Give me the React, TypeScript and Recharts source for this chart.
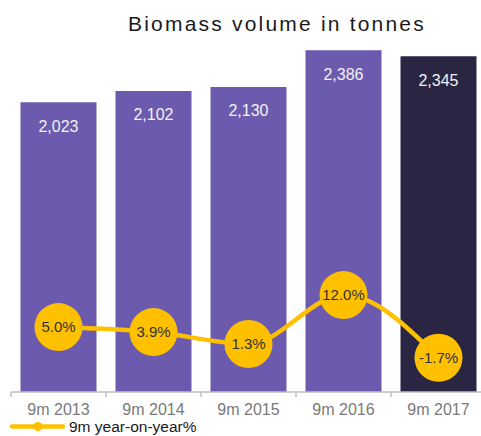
import React from 'react';
import { ComposedChart, Bar, Line, XAxis, YAxis, Cell, LabelList, Legend } from 'recharts';

const categories = ['9m 2013', '9m 2014', '9m 2015', '9m 2016', '9m 2017'];
const biomass = [2023, 2102, 2130, 2386, 2345];
const yoy = [5.0, 3.9, 1.3, 12.0, -1.7];
const barColors = ['#6b5aae', '#6b5aae', '#6b5aae', '#6b5aae', '#2b2544'];
const title = 'Biomass volume in tonnes';
const seriesName = '9m year-on-year%';

const data = categories.map((c, i) => ({ name: c, biomass: biomass[i], yoy: yoy[i] }));

const FONT = '"Liberation Sans", Arial, Helvetica, sans-serif';
const W = 495;
const H = 436;
const M = { top: 34, right: 9, bottom: 0, left: 11 };
const BAND = (W - M.left - M.right) / categories.length;
const YELLOW = '#ffc000';
const TICK_MARGIN = 12;

const Tick = (props: any) => {
  const { x, y, payload, index } = props;
  const y0 = y - TICK_MARGIN;
  return (
    <g>
      <line x1={x - BAND / 2} x2={x - BAND / 2} y1={y0} y2={y0 + 5} stroke="#bfbfbf" strokeWidth={1.5} />
      {index === categories.length - 1 && (
        <line x1={x + BAND / 2} x2={x + BAND / 2} y1={y0} y2={y0 + 5} stroke="#bfbfbf" strokeWidth={1.5} />
      )}
      <text x={x} y={y} dy="0.71em" textAnchor="middle" fill="#7a7a7a" fontSize={16} fontFamily={FONT}>
        {payload.value}
      </text>
    </g>
  );
};

const LegendContent = () => (
  <svg width={220} height={20} style={{ overflow: 'visible', display: 'block' }}>
    <line x1={12} x2={63} y1={9.5} y2={9.5} stroke={YELLOW} strokeWidth={4.5} strokeLinecap="round" />
    <circle cx={38} cy={9.5} r={4.5} fill={YELLOW} />
    <text x={69} y={15.3} fontSize={15.5} fill="#1a1a1a" fontFamily={FONT}>
      {seriesName}
    </text>
  </svg>
);

const Dot = (p: any) => <circle key={`d${p.index}`} cx={p.cx} cy={p.cy} r={24} fill={YELLOW} />;

export default function App() {
  return (
    <div style={{ position: 'fixed', left: 0, top: 0, width: 481, height: 436, overflow: 'hidden', background: '#fff' }}>
      <div
        style={{
          position: 'absolute',
          left: 77,
          width: 400,
          top: 13,
          textAlign: 'center',
          fontFamily: FONT,
          fontSize: 21,
          lineHeight: '21px',
          letterSpacing: 2.2,
          color: '#1a1a1a',
          zIndex: 2,
        }}
      >
        {title}
      </div>
      <ComposedChart width={W} height={H} data={data} margin={M}>
        <XAxis
          dataKey="name"
          height={44}
          interval={0}
          tickSize={0}
          tickMargin={TICK_MARGIN}
          tickLine={false}
          axisLine={{ stroke: '#bfbfbf', strokeWidth: 1.5 }}
          tick={<Tick />}
        />
        <YAxis yAxisId="left" hide domain={[0, 2500]} allowDataOverflow />
        <YAxis yAxisId="right" orientation="right" hide domain={[-9.2, 69.1]} allowDataOverflow />
        <Bar yAxisId="left" dataKey="biomass" isAnimationActive={false}>
          {data.map((d, i) => (
            <Cell key={d.name} fill={barColors[i]} />
          ))}
          <LabelList
            dataKey="biomass"
            position="insideTop"
            offset={18}
            fill="#f2f2f2"
            fontSize={16}
            fontFamily={FONT}
            formatter={(v: any) => Number(v).toLocaleString('en-US')}
          />
        </Bar>
        <Line
          yAxisId="right"
          dataKey="yoy"
          type="monotone"
          stroke={YELLOW}
          strokeWidth={4.5}
          dot={Dot}
          activeDot={false}
          isAnimationActive={false}
        >
          <LabelList
            dataKey="yoy"
            position="center"
            fill="#333333"
            fontSize={15}
            fontFamily={FONT}
            formatter={(v: any) => `${Number(v).toFixed(1)}%`}
          />
        </Line>
        <Legend
          layout="horizontal"
          verticalAlign="middle"
          align="center"
          content={<LegendContent />}
          wrapperStyle={{ left: 0, top: 417, width: 240, height: 20 }}
        />
      </ComposedChart>
    </div>
  );
}
